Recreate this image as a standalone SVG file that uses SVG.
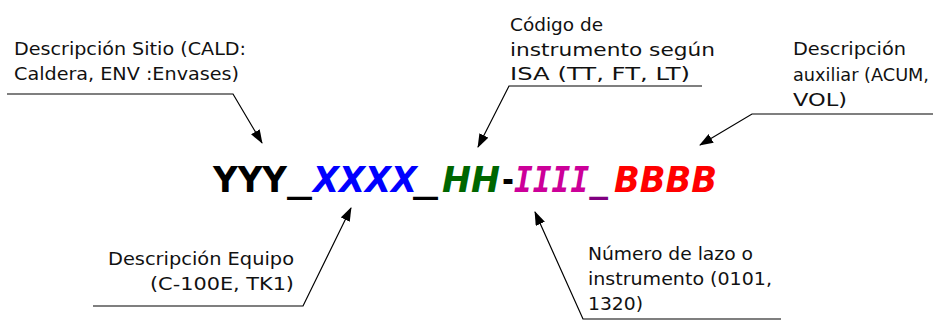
<svg xmlns="http://www.w3.org/2000/svg" width="945" height="320" viewBox="0 0 945 320">
<style>
.lbl{font-family:"DejaVu Sans",sans-serif;font-size:18.5px;fill:#111}
.big{font-family:"DejaVu Sans Condensed","DejaVu Sans",sans-serif;font-stretch:condensed;font-size:35px;font-weight:bold}
.mono{font-family:"DejaVu Sans Mono",monospace;font-stretch:normal}
.it{font-style:italic}
.con{fill:none;stroke:#000;stroke-width:1.2;marker-end:url(#ah)}
</style>
<defs>
<marker id="ah" viewBox="0 0 14 10" refX="13" refY="5" markerWidth="14" markerHeight="10" markerUnits="userSpaceOnUse" orient="auto">
<path d="M0,0 L14,5 L0,10 Z" fill="#000"/>
</marker>
</defs>
<rect width="945" height="320" fill="#fff"/>
<g id="connectors">
<polyline class="con" points="7,94 233,94 262,143"/>
<polyline class="con" points="702,86 509,86 478,147"/>
<polyline class="con" points="933,114 752,114 700,145"/>
<polyline class="con" points="93,306 303,306 351,208"/>
<polyline class="con" points="781,319 583,319 535,212"/>
</g>
<g id="code">
<text class="big" x="213" y="192" fill="#000" textLength="74" lengthAdjust="spacingAndGlyphs">YYY</text>
<text class="big" x="287" y="192" fill="#000" textLength="25" lengthAdjust="spacingAndGlyphs">_</text>
<text class="big it" x="313" y="192" fill="#0000ff" textLength="104" lengthAdjust="spacingAndGlyphs">XXXX</text>
<text class="big" x="413" y="192" fill="#000" textLength="25" lengthAdjust="spacingAndGlyphs">_</text>
<text class="big it" x="442" y="192" fill="#006600" textLength="58" lengthAdjust="spacingAndGlyphs">HH</text>
<text class="big" x="502" y="192" fill="#000" textLength="12" lengthAdjust="spacingAndGlyphs">-</text>
<text class="big it mono" x="514" y="192" textLength="94" lengthAdjust="spacingAndGlyphs"><tspan fill="#cc0099">IIII</tspan><tspan fill="#800080">_</tspan></text>
<text class="big it" x="614" y="192" fill="#ff0000" textLength="103" lengthAdjust="spacingAndGlyphs">BBBB</text>
</g>
<g id="sitio">
<text class="lbl" x="14" y="55" textLength="232" lengthAdjust="spacingAndGlyphs">Descripción Sitio (CALD:</text>
<text class="lbl" x="14" y="80" textLength="225" lengthAdjust="spacingAndGlyphs">Caldera, ENV :Envases)</text>
</g>
<g id="codigo">
<text class="lbl" x="510" y="31" textLength="93" lengthAdjust="spacingAndGlyphs">Código de</text>
<text class="lbl" x="510" y="56" textLength="205" lengthAdjust="spacingAndGlyphs">instrumento según</text>
<text class="lbl" x="510" y="80" textLength="180" lengthAdjust="spacingAndGlyphs">ISA (TT, FT, LT)</text>
</g>
<g id="auxiliar">
<text class="lbl" x="793" y="55" textLength="113" lengthAdjust="spacingAndGlyphs">Descripción</text>
<text class="lbl" x="793" y="81" textLength="136" lengthAdjust="spacingAndGlyphs">auxiliar (ACUM,</text>
<text class="lbl" x="793" y="106" textLength="54" lengthAdjust="spacingAndGlyphs">VOL)</text>
</g>
<g id="equipo">
<text class="lbl" x="108" y="265" textLength="186" lengthAdjust="spacingAndGlyphs">Descripción Equipo</text>
<text class="lbl" x="150" y="290" textLength="144" lengthAdjust="spacingAndGlyphs">(C-100E, TK1)</text>
</g>
<g id="lazo">
<text class="lbl" x="588" y="260" textLength="165" lengthAdjust="spacingAndGlyphs">Número de lazo o</text>
<text class="lbl" x="588" y="285" textLength="184" lengthAdjust="spacingAndGlyphs">instrumento (0101,</text>
<text class="lbl" x="588" y="310" textLength="55" lengthAdjust="spacingAndGlyphs">1320)</text>
</g>
</svg>
